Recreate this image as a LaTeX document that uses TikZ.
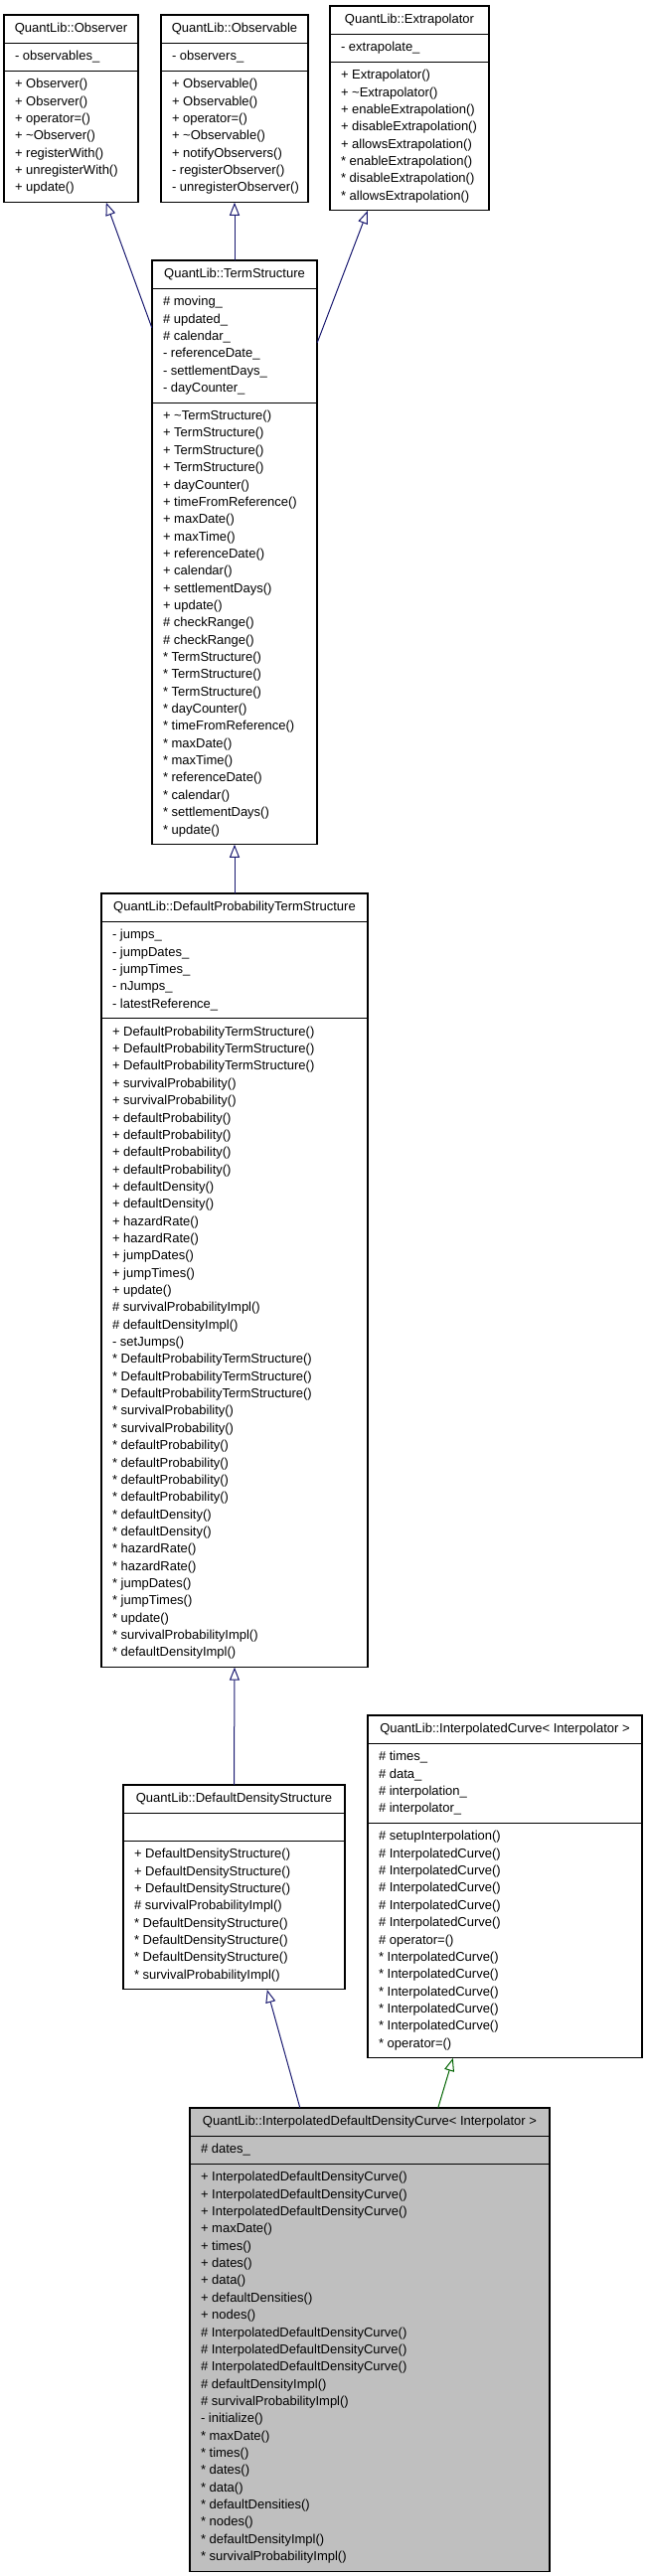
\documentclass[tikz,border=0pt]{standalone}
\usepackage{fontspec}
\setmainfont{Liberation Sans}
\usetikzlibrary{arrows.meta,fit}
\definecolor{edgeblue}{RGB}{25,25,112}
\definecolor{edgegreen}{RGB}{0,100,0}
\definecolor{curfill}{RGB}{191,191,191}
\tikzset{
  sec/.style={draw=black, line width=1.1pt, fill=white, inner xsep=11pt, inner ysep=5.4pt,
    outer sep=0pt, font=\fontsize{13pt}{17.35pt}\selectfont},
  curcls/.style={fill=curfill},
  plaincls/.style={},
  inh/.style={draw=edgeblue, line width=1pt, -{Triangle[open,length=13pt,width=10pt]}},
  inhp/.style={inh, draw=edgegreen},
}
\newcommand\st{\relax*}
\newcommand\umlclass[7]{%
  \node[sec,#1,anchor=north west,minimum width=#4pt] (#2-t) at #3
    {\makebox[\dimexpr#4pt-22pt\relax][c]{\begin{tabular}{@{}c@{}}#5\end{tabular}}};
  \node[sec,#1,anchor=north,minimum width=#4pt] (#2-a) at (#2-t.south)
    {\makebox[\dimexpr#4pt-22pt\relax][l]{\begin{tabular}{@{}l@{}}#6\end{tabular}}};
  \node[sec,#1,anchor=north,minimum width=#4pt] (#2-m) at (#2-a.south)
    {\makebox[\dimexpr#4pt-22pt\relax][l]{\begin{tabular}{@{}l@{}}#7\end{tabular}}};
  \node[fit=(#2-t)(#2-m),inner sep=0pt] (#2) {};
}
\begin{document}
\begin{tikzpicture}[x=1pt,y=-1pt]
\fill[white] (0,0) rectangle (651,2592);
\useasboundingbox (0,0) rectangle (651,2592);

\umlclass{plaincls}{obs}{(4,15)}{135}{QuantLib::Observer}
 {- observables\_}
 {+ Observer()\\+ Observer()\\+ operator=()\\+ \textasciitilde Observer()\\+ registerWith()\\+ unregisterWith()\\+ update()}

\umlclass{plaincls}{obsv}{(162,15)}{148}{QuantLib::Observable}
 {- observers\_}
 {+ Observable()\\+ Observable()\\+ operator=()\\+ \textasciitilde Observable()\\+ notifyObservers()\\- registerObserver()\\- unregisterObserver()}

\umlclass{plaincls}{extr}{(332,6)}{160}{QuantLib::Extrapolator}
 {- extrapolate\_}
 {+ Extrapolator()\\+ \textasciitilde Extrapolator()\\+ enableExtrapolation()\\+ disableExtrapolation()\\+ allowsExtrapolation()\\\st{} enableExtrapolation()\\\st{} disableExtrapolation()\\\st{} allowsExtrapolation()}

\umlclass{plaincls}{ts}{(153,262)}{166}{QuantLib::TermStructure}
 {\# moving\_\\\# updated\_\\\# calendar\_\\- referenceDate\_\\- settlementDays\_\\- dayCounter\_}
 {+ \textasciitilde TermStructure()\\+ TermStructure()\\+ TermStructure()\\+ TermStructure()\\+ dayCounter()\\+ timeFromReference()\\+ maxDate()\\+ maxTime()\\+ referenceDate()\\+ calendar()\\+ settlementDays()\\+ update()\\\# checkRange()\\\# checkRange()\\\st{} TermStructure()\\\st{} TermStructure()\\\st{} TermStructure()\\\st{} dayCounter()\\\st{} timeFromReference()\\\st{} maxDate()\\\st{} maxTime()\\\st{} referenceDate()\\\st{} calendar()\\\st{} settlementDays()\\\st{} update()}

\umlclass{plaincls}{dpts}{(102,899)}{268}{QuantLib::DefaultProbabilityTermStructure}
 {- jumps\_\\- jumpDates\_\\- jumpTimes\_\\- nJumps\_\\- latestReference\_}
 {+ DefaultProbabilityTermStructure()\\+ DefaultProbabilityTermStructure()\\+ DefaultProbabilityTermStructure()\\+ survivalProbability()\\+ survivalProbability()\\+ defaultProbability()\\+ defaultProbability()\\+ defaultProbability()\\+ defaultProbability()\\+ defaultDensity()\\+ defaultDensity()\\+ hazardRate()\\+ hazardRate()\\+ jumpDates()\\+ jumpTimes()\\+ update()\\\# survivalProbabilityImpl()\\\# defaultDensityImpl()\\- setJumps()\\\st{} DefaultProbabilityTermStructure()\\\st{} DefaultProbabilityTermStructure()\\\st{} DefaultProbabilityTermStructure()\\\st{} survivalProbability()\\\st{} survivalProbability()\\\st{} defaultProbability()\\\st{} defaultProbability()\\\st{} defaultProbability()\\\st{} defaultProbability()\\\st{} defaultDensity()\\\st{} defaultDensity()\\\st{} hazardRate()\\\st{} hazardRate()\\\st{} jumpDates()\\\st{} jumpTimes()\\\st{} update()\\\st{} survivalProbabilityImpl()\\\st{} defaultDensityImpl()}

\umlclass{plaincls}{dds}{(124,1796)}{223}{QuantLib::DefaultDensityStructure}
 {\strut}
 {+ DefaultDensityStructure()\\+ DefaultDensityStructure()\\+ DefaultDensityStructure()\\\# survivalProbabilityImpl()\\\st{} DefaultDensityStructure()\\\st{} DefaultDensityStructure()\\\st{} DefaultDensityStructure()\\\st{} survivalProbabilityImpl()}

\umlclass{plaincls}{ic}{(370,1726)}{276}{QuantLib::InterpolatedCurve< Interpolator >}
 {\# times\_\\\# data\_\\\# interpolation\_\\\# interpolator\_}
 {\# setupInterpolation()\\\# InterpolatedCurve()\\\# InterpolatedCurve()\\\# InterpolatedCurve()\\\# InterpolatedCurve()\\\# InterpolatedCurve()\\\# operator=()\\\st{} InterpolatedCurve()\\\st{} InterpolatedCurve()\\\st{} InterpolatedCurve()\\\st{} InterpolatedCurve()\\\st{} InterpolatedCurve()\\\st{} operator=()}

\umlclass{curcls}{iddc}{(191,2121)}{362}{QuantLib::InterpolatedDefaultDensityCurve< Interpolator >}
 {\# dates\_}
 {+ InterpolatedDefaultDensityCurve()\\+ InterpolatedDefaultDensityCurve()\\+ InterpolatedDefaultDensityCurve()\\+ maxDate()\\+ times()\\+ dates()\\+ data()\\+ defaultDensities()\\+ nodes()\\\# InterpolatedDefaultDensityCurve()\\\# InterpolatedDefaultDensityCurve()\\\# InterpolatedDefaultDensityCurve()\\\# defaultDensityImpl()\\\# survivalProbabilityImpl()\\- initialize()\\\st{} maxDate()\\\st{} times()\\\st{} dates()\\\st{} data()\\\st{} defaultDensities()\\\st{} nodes()\\\st{} defaultDensityImpl()\\\st{} survivalProbabilityImpl()}

% inheritance connectors
\draw[inh] ([yshift=-68pt]ts.north west) -- ([xshift=103pt]obs.south west);
\draw[inh] (ts.north) -- (obsv.south);
\draw[inh] ([yshift=-83pt]ts.north east) -- ([xshift=38pt]extr.south west);
\draw[inh] (dpts.north) -- (ts.south);
\draw[inh] (dds.north) -- (dpts.south);
\draw[inh] ([xshift=111pt]iddc.north west) -- ([xshift=145pt]dds.south west);
\draw[inhp] ([xshift=250pt]iddc.north west) -- ([xshift=86pt]ic.south west);
\end{tikzpicture}
\end{document}
